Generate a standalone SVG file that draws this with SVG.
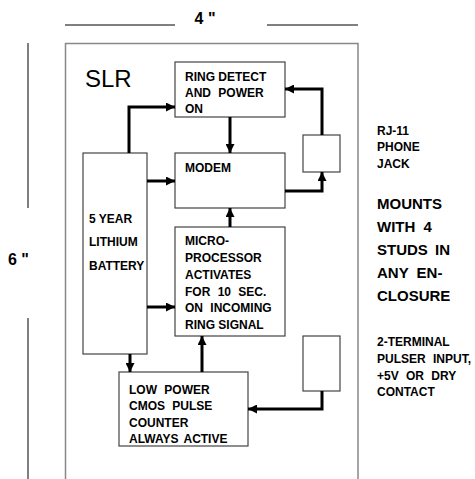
<svg xmlns="http://www.w3.org/2000/svg" width="475" height="479" viewBox="0 0 475 479">
<defs>
<style>
text{font-family:"Liberation Sans",Arial,sans-serif;fill:#000}
.b{font-weight:bold;font-size:12px}
.m{font-weight:bold;font-size:15px}
.w{word-spacing:4px}
.dim{font-weight:bold;font-size:16px}
.box{fill:#fff;stroke:#444;stroke-width:1.2}
.outer{fill:none;stroke:#888;stroke-width:1.5}
.dl{stroke:#000;stroke-width:1}
.c{fill:none;stroke:#000;stroke-width:3;marker-end:url(#ah)}
</style>
<marker id="ah" markerUnits="userSpaceOnUse" markerWidth="9" markerHeight="9" refX="9" refY="4.5" orient="auto">
<path d="M0,0 L9,4.5 L0,9 Z" fill="#000"/>
</marker>
</defs>
<rect width="475" height="479" fill="#fff"/>
<g id="dimensions">
<line class="dl" x1="65" y1="25" x2="175" y2="25"/>
<line class="dl" x1="267" y1="25" x2="358" y2="25"/>
<text class="dim" x="205" y="24" text-anchor="middle">4 "</text>
<line class="dl" x1="28" y1="43" x2="28" y2="208"/>
<line class="dl" x1="28" y1="318" x2="28" y2="479"/>
<text class="dim" x="8" y="265">6 "</text>
</g>
<g id="enclosure">
<rect class="outer" x="65.5" y="43.5" width="292.5" height="450"/>
<text x="85" y="87" style="font-size:24px">SLR</text>
</g>
<g id="ring-detect">
<rect class="box" x="175" y="62" width="110" height="55"/>
<text class="b" x="185" y="81">RING DETECT</text>
<text class="b w" x="185" y="97">AND POWER</text>
<text class="b" x="185" y="113">ON</text>
</g>
<g id="modem">
<rect class="box" x="175" y="153" width="110" height="55"/>
<text class="b" x="185" y="172">MODEM</text>
</g>
<g id="battery">
<rect class="box" x="83" y="153" width="64" height="201"/>
<text class="b" x="89" y="223">5 YEAR</text>
<text class="b" x="89" y="246">LITHIUM</text>
<text class="b" x="89" y="270">BATTERY</text>
</g>
<g id="microprocessor">
<rect class="box" x="175" y="227" width="110" height="109"/>
<text class="b" x="185" y="245">MICRO-</text>
<text class="b" x="185" y="262">PROCESSOR</text>
<text class="b" x="185" y="279">ACTIVATES</text>
<text class="b w" x="185" y="296">FOR 10 SEC.</text>
<text class="b w" x="185" y="312">ON INCOMING</text>
<text class="b" x="185" y="329">RING SIGNAL</text>
</g>
<g id="counter">
<rect class="box" x="119" y="372" width="129" height="74"/>
<text class="b w" x="129" y="394">LOW POWER</text>
<text class="b w" x="129" y="410">CMOS PULSE</text>
<text class="b" x="129" y="427">COUNTER</text>
<text class="b" x="129" y="443" style="word-spacing:2px">ALWAYS ACTIVE</text>
</g>
<g id="phone-jack">
<rect class="box" x="303" y="135" width="37" height="37"/>
</g>
<g id="pulser-input">
<rect class="box" x="303" y="336" width="37" height="55"/>
</g>
<g id="notes">
<text class="b" x="377" y="135">RJ-11</text>
<text class="b" x="377" y="151">PHONE</text>
<text class="b" x="377" y="168">JACK</text>
<text class="m" x="377" y="209">MOUNTS</text>
<text class="m w" x="377" y="232">WITH 4</text>
<text class="m" x="377" y="255" style="word-spacing:3px">STUDS IN</text>
<text class="m w" x="377" y="278">ANY EN-</text>
<text class="m" x="377" y="301">CLOSURE</text>
<text class="b" x="377" y="346">2-TERMINAL</text>
<text class="b w" x="377" y="363">PULSER INPUT,</text>
<text class="b w" x="377" y="380">+5V OR DRY</text>
<text class="b" x="377" y="396">CONTACT</text>
</g>
<g id="connectors">
<path class="c" d="M129,153 V107 H175"/>
<path class="c" d="M230,117 V153"/>
<path class="c" d="M147,181 H175"/>
<path class="c" d="M285,191 H322 V172"/>
<path class="c" d="M322,135 V89 H285"/>
<path class="c" d="M230,227 V208"/>
<path class="c" d="M147,307 H175"/>
<path class="c" d="M130,354 V372"/>
<path class="c" d="M202,372 V336"/>
<path class="c" d="M322,391 V409 H248"/>
</g>
</svg>
